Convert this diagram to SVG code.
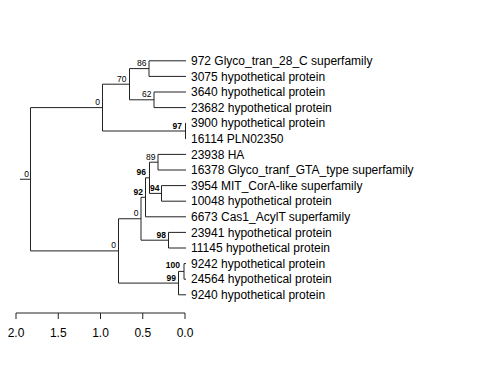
<svg xmlns="http://www.w3.org/2000/svg" width="480" height="384" viewBox="0 0 480 384">
<style>
.e{stroke:#222;stroke-width:1;fill:none}
.tip{font-family:"Liberation Sans",Arial,sans-serif;font-size:12px;fill:#000}
.nl{font-family:"Liberation Sans",Arial,sans-serif;font-size:8.5px;fill:#000;text-anchor:end}
.b{font-weight:bold}
.ax{font-family:"Liberation Sans",Arial,sans-serif;font-size:12px;fill:#000;text-anchor:middle}
</style>
<rect width="480" height="384" fill="#fff"/>
<g id="connectors">
<!-- root -->
<path class="e" d="M20 179.25H30.5M30.5 107.6V250.9"/>
<!-- upper clade -->
<path class="e" d="M30.5 107.6H102.5M102.5 84.2V131"/>
<path class="e" d="M102.5 84.2H129.5M129.5 68.6V99.8"/>
<path class="e" d="M129.5 68.6H149M149 60.8V76.4M149 60.8H186M149 76.4H186"/>
<path class="e" d="M129.5 99.8H154M154 92V107.6M154 92H186M154 107.6H186"/>
<path class="e" d="M102.5 131H185.5M185.5 123.2V138.8M185.5 123.2H186M185.5 138.8H186"/>
<!-- lower clade -->
<path class="e" d="M30.5 250.9H118.5M118.5 218.75V283.1"/>
<path class="e" d="M118.5 218.75H141M141 197.3V240.2"/>
<path class="e" d="M141 197.3H145.5M145.5 177.8V216.8M145.5 216.8H186"/>
<path class="e" d="M145.5 177.8H149.5M149.5 162.2V193.4"/>
<path class="e" d="M149.5 162.2H158M158 154.4V170M158 154.4H186M158 170H186"/>
<path class="e" d="M149.5 193.4H161.5M161.5 185.6V201.2M161.5 185.6H186M161.5 201.2H186"/>
<path class="e" d="M141 240.2H168.5M168.5 232.4V248M168.5 232.4H186M168.5 248H186"/>
<path class="e" d="M118.5 283.1H178.5M178.5 271.4V294.8M178.5 294.8H186"/>
<path class="e" d="M178.5 271.4H184M184 263.6V279.2M184 263.6H186M184 279.2H186"/>
</g>
<g id="tips">
<text class="tip" x="191" y="65">972 Glyco_tran_28_C superfamily</text>
<text class="tip" x="191" y="80.6">3075 hypothetical protein</text>
<text class="tip" x="191" y="96.2">3640 hypothetical protein</text>
<text class="tip" x="191" y="111.8">23682 hypothetical protein</text>
<text class="tip" x="191" y="127.4">3900 hypothetical protein</text>
<text class="tip" x="191" y="143">16114 PLN02350</text>
<text class="tip" x="191" y="158.6">23938 HA</text>
<text class="tip" x="191" y="174.2">16378 Glyco_tranf_GTA_type superfamily</text>
<text class="tip" x="191" y="189.8">3954 MIT_CorA-like superfamily</text>
<text class="tip" x="191" y="205.4">10048 hypothetical protein</text>
<text class="tip" x="191" y="221">6673 Cas1_AcylT superfamily</text>
<text class="tip" x="191" y="236.6">23941 hypothetical protein</text>
<text class="tip" x="191" y="252.2">11145 hypothetical protein</text>
<text class="tip" x="191" y="267.8">9242 hypothetical protein</text>
<text class="tip" x="191" y="283.4">24564 hypothetical protein</text>
<text class="tip" x="191" y="299">9240 hypothetical protein</text>
</g>
<g id="node-labels">
<text class="nl" x="29" y="176.7">0</text>
<text class="nl" x="100" y="105">0</text>
<text class="nl" x="126.5" y="81.7">70</text>
<text class="nl" x="146.5" y="66.1">86</text>
<text class="nl" x="151.5" y="97.3">62</text>
<text class="nl b" x="182" y="128.5">97</text>
<text class="nl" x="116" y="248.4">0</text>
<text class="nl" x="138.5" y="216.3">0</text>
<text class="nl b" x="143" y="194.8">92</text>
<text class="nl b" x="146" y="175.3">96</text>
<text class="nl" x="155.5" y="159.7">89</text>
<text class="nl b" x="159.5" y="190.9">94</text>
<text class="nl b" x="166" y="237.7">98</text>
<text class="nl b" x="176" y="280.6">99</text>
<text class="nl b" x="180" y="268.2">100</text>
</g>
<g id="axis">
<path class="e" d="M16 313H185M16 313V319M58.25 313V319M100.5 313V319M142.75 313V319M185 313V319"/>
<text class="ax" x="16" y="337">2.0</text>
<text class="ax" x="58.25" y="337">1.5</text>
<text class="ax" x="100.5" y="337">1.0</text>
<text class="ax" x="142.75" y="337">0.5</text>
<text class="ax" x="185" y="337">0.0</text>
</g>
</svg>
